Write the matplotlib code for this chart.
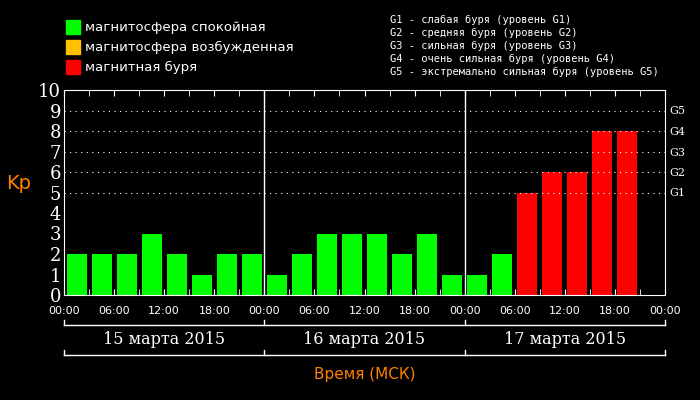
import matplotlib
matplotlib.use("Agg")
import matplotlib.pyplot as plt
import numpy as np

kp = [2,2,2,3,2,1,2,2, 1,2,3,3,3,2,3,1, 1,2,5,6,6,8,8]
dates = ["15 марта 2015", "16 марта 2015", "17 марта 2015"]
hour_labels = ["00:00","06:00","12:00","18:00"]
g_labels = ["G1","G2","G3","G4","G5"]
g_desc = ["G1 - слабая буря (уровень G1)", "G2 - средняя буря (уровень G2)",
          "G3 - сильная буря (уровень G3)", "G4 - очень сильная буря (уровень G4)",
          "G5 - экстремально сильная буря (уровень G5)"]
legend_items = [("магнитосфера спокойная", "#00ff00"),
                ("магнитосфера возбужденная", "#ffc000"),
                ("магнитная буря", "#ff0000")]

fig = plt.figure(figsize=(7,4), dpi=100, facecolor="black")
ax = fig.add_axes([64/700, 105/400, 601/700, 205/400], facecolor="black")
x = np.arange(len(kp))*3 + 1.5
cols = ["#00ff00" if v < 4 else ("#ffc000" if v < 5 else "#ff0000") for v in kp]
ax.bar(x, kp, width=2.4, color=cols)
ax.set_xlim(0, 72); ax.set_ylim(0, 10)
for s in ax.spines.values(): s.set_color("white")
for d in (24, 48):
    ax.axvline(d, color="white", lw=1)
for y in range(5, 10):
    ax.axhline(y, color="white", lw=0.8, ls=(0,(1,4)))
ax.set_yticks(range(11))
ax.set_yticklabels([str(i) for i in range(11)], color="white", fontsize=13, fontfamily="DejaVu Serif")
ax.set_xticks(range(0, 73, 6))
ax.set_xticklabels([hour_labels[(h//6) % 4] for h in range(0, 73, 6)], color="white", fontsize=8)
ax.set_xticks(range(0, 73, 3), minor=True)
ax.tick_params(which="both", colors="white", direction="in", top=True, length=4)
ax.tick_params(axis="y", length=0, pad=2)
ax.tick_params(axis="x", which="major", pad=8)
ax.set_ylabel("Kp", color="#ff8000", fontsize=14, rotation=0, labelpad=14)
ax2 = ax.twinx()
ax2.set_ylim(0, 10)
ax2.set_yticks(range(5, 10)); ax2.set_yticklabels(g_labels, color="white", fontsize=8, fontfamily="DejaVu Serif")
ax2.tick_params(length=0)
for s in ax2.spines.values(): s.set_visible(False)

# date brackets
for yb in (325, 355):
    fig.add_artist(plt.Line2D([64/700, 665/700], [1-yb/400]*2, color="white", lw=1))
    for xb in range(4):
        xp = (64 + xb*200.3)/700
        fig.add_artist(plt.Line2D([xp, xp], [1-yb/400, 1-(yb-5)/400], color="white", lw=1))
for i, d in enumerate(dates):
    fig.text((64 + 200.3*i + 100)/700, 1-340/400, d, color="white", fontsize=11.5,
             ha="center", va="center", fontfamily="DejaVu Serif")
fig.text(365/700, 1-375/400, "Время (МСК)", color="#ff8000", fontsize=11, ha="center", va="center")

for i, (t, c) in enumerate(legend_items):
    yy = 1-(27+20*i)/400
    fig.patches.append(plt.Rectangle((66/700, yy-7/400), 14/700, 14/400, color=c, transform=fig.transFigure))
    fig.text(85/700, yy, t, color="white", fontsize=9.5, va="center")
for i, t in enumerate(g_desc):
    fig.text(390/700, 1-(20+13*i)/400, t, color="white", fontsize=7.5, va="center", fontfamily="DejaVu Sans Mono")

fig.savefig("out.png", dpi=100, facecolor="black")
